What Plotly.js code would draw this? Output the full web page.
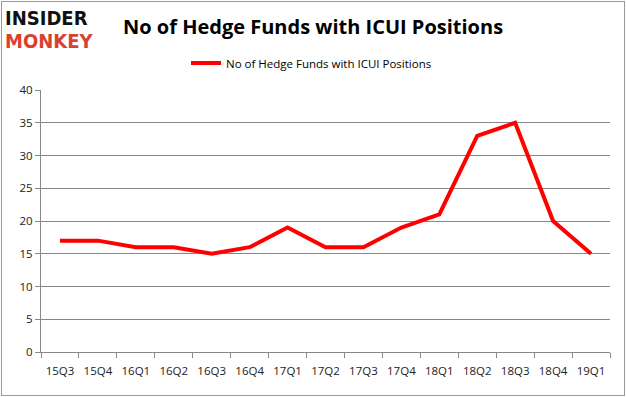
<!DOCTYPE html>
<html><head><meta charset="utf-8">
<script src="https://cdn.plot.ly/plotly-3.0.1.min.js"></script>
<style>
html,body{margin:0;padding:0;background:#fff;}
#chart{position:absolute;left:0;top:0;width:626px;height:397px;}
#frame{position:absolute;left:1px;top:1px;width:624px;height:395px;box-sizing:border-box;border:1px solid #9a9a9a;pointer-events:none;}
</style>
</head><body>
<div id="chart"></div><div id="frame"></div>
<script>
const quarters = ["15Q3","15Q4","16Q1","16Q2","16Q3","16Q4","17Q1","17Q2","17Q3","17Q4","18Q1","18Q2","18Q3","18Q4","19Q1"];
const hedgeFunds = [17,17,16,16,15,16,19,16,16,19,21,33,35,20,15];
const seriesName = "No of Hedge Funds with ICUI Positions";
const chartTitle = "No of Hedge Funds with ICUI Positions";

const W = 626, H = 397;
const L = 41, R = 610, T = 90, B = 352;
const px = v => (v - L) / (R - L);
const py = v => (B - v) / (B - T);

Plotly.newPlot("chart", [{
  x: quarters, y: hedgeFunds, type: "scatter", mode: "lines", name: seriesName,
  line: {color: "#ff0000", width: 4}
}], {
  width: W, height: H,
  margin: {l: L, r: W - R, t: T, b: H - B, pad: 0},
  paper_bgcolor: "#ffffff", plot_bgcolor: "#ffffff",
  font: {family: "Open Sans, sans-serif", size: 11, color: "#333"},
  title: {text: chartTitle, font: {family: "Open Sans, sans-serif", size: 20, color: "#000", weight: 700},
    x: 123 / W, xanchor: "left", xref: "container", y: 1 - 27 / H, yanchor: "middle", yref: "container"},
  showlegend: true,
  legend: {orientation: "h", x: px(186), xanchor: "left", y: py(63), yanchor: "middle",
    itemwidth: 30,
    font: {family: "Open Sans, sans-serif", size: 11.5, color: "#000"}, bgcolor: "rgba(0,0,0,0)"},
  xaxis: {
    type: "category", range: [-0.5, 14.5], showgrid: false, showline: true, linecolor: "#888", linewidth: 1,
    ticks: "outside", tickson: "boundaries", ticklen: 5, tickcolor: "#888", tickangle: 0, ticklabelstandoff: 8,
    tickfont: {family: "Open Sans, sans-serif", size: 11.5, color: "#222"}, fixedrange: true
  },
  yaxis: {
    range: [0, 40], dtick: 5, showgrid: true, gridcolor: "#878787", gridwidth: 1,
    showline: true, linecolor: "#888", linewidth: 1, ticks: "outside", ticklen: 5, tickcolor: "#888",
    zeroline: false, tickfont: {family: "Open Sans, sans-serif", size: 11.5, color: "#222"}, fixedrange: true
  },
  annotations: [
    {text: "<b>INSIDER</b>", xref: "paper", yref: "paper", x: px(4), xanchor: "left",
      y: py(18), yanchor: "middle", showarrow: false, borderpad: 0,
      font: {family: "DejaVu Sans Condensed, DejaVu Sans, sans-serif", size: 20, color: "#111"}},
    {text: "<b>MONKEY</b>", xref: "paper", yref: "paper", x: px(4), xanchor: "left",
      y: py(41), yanchor: "middle", showarrow: false, borderpad: 0,
      font: {family: "DejaVu Sans Condensed, DejaVu Sans, sans-serif", size: 20, color: "#d9412e"}}
  ]
}, {displayModeBar: false, staticPlot: true});
</script>
</body></html>
